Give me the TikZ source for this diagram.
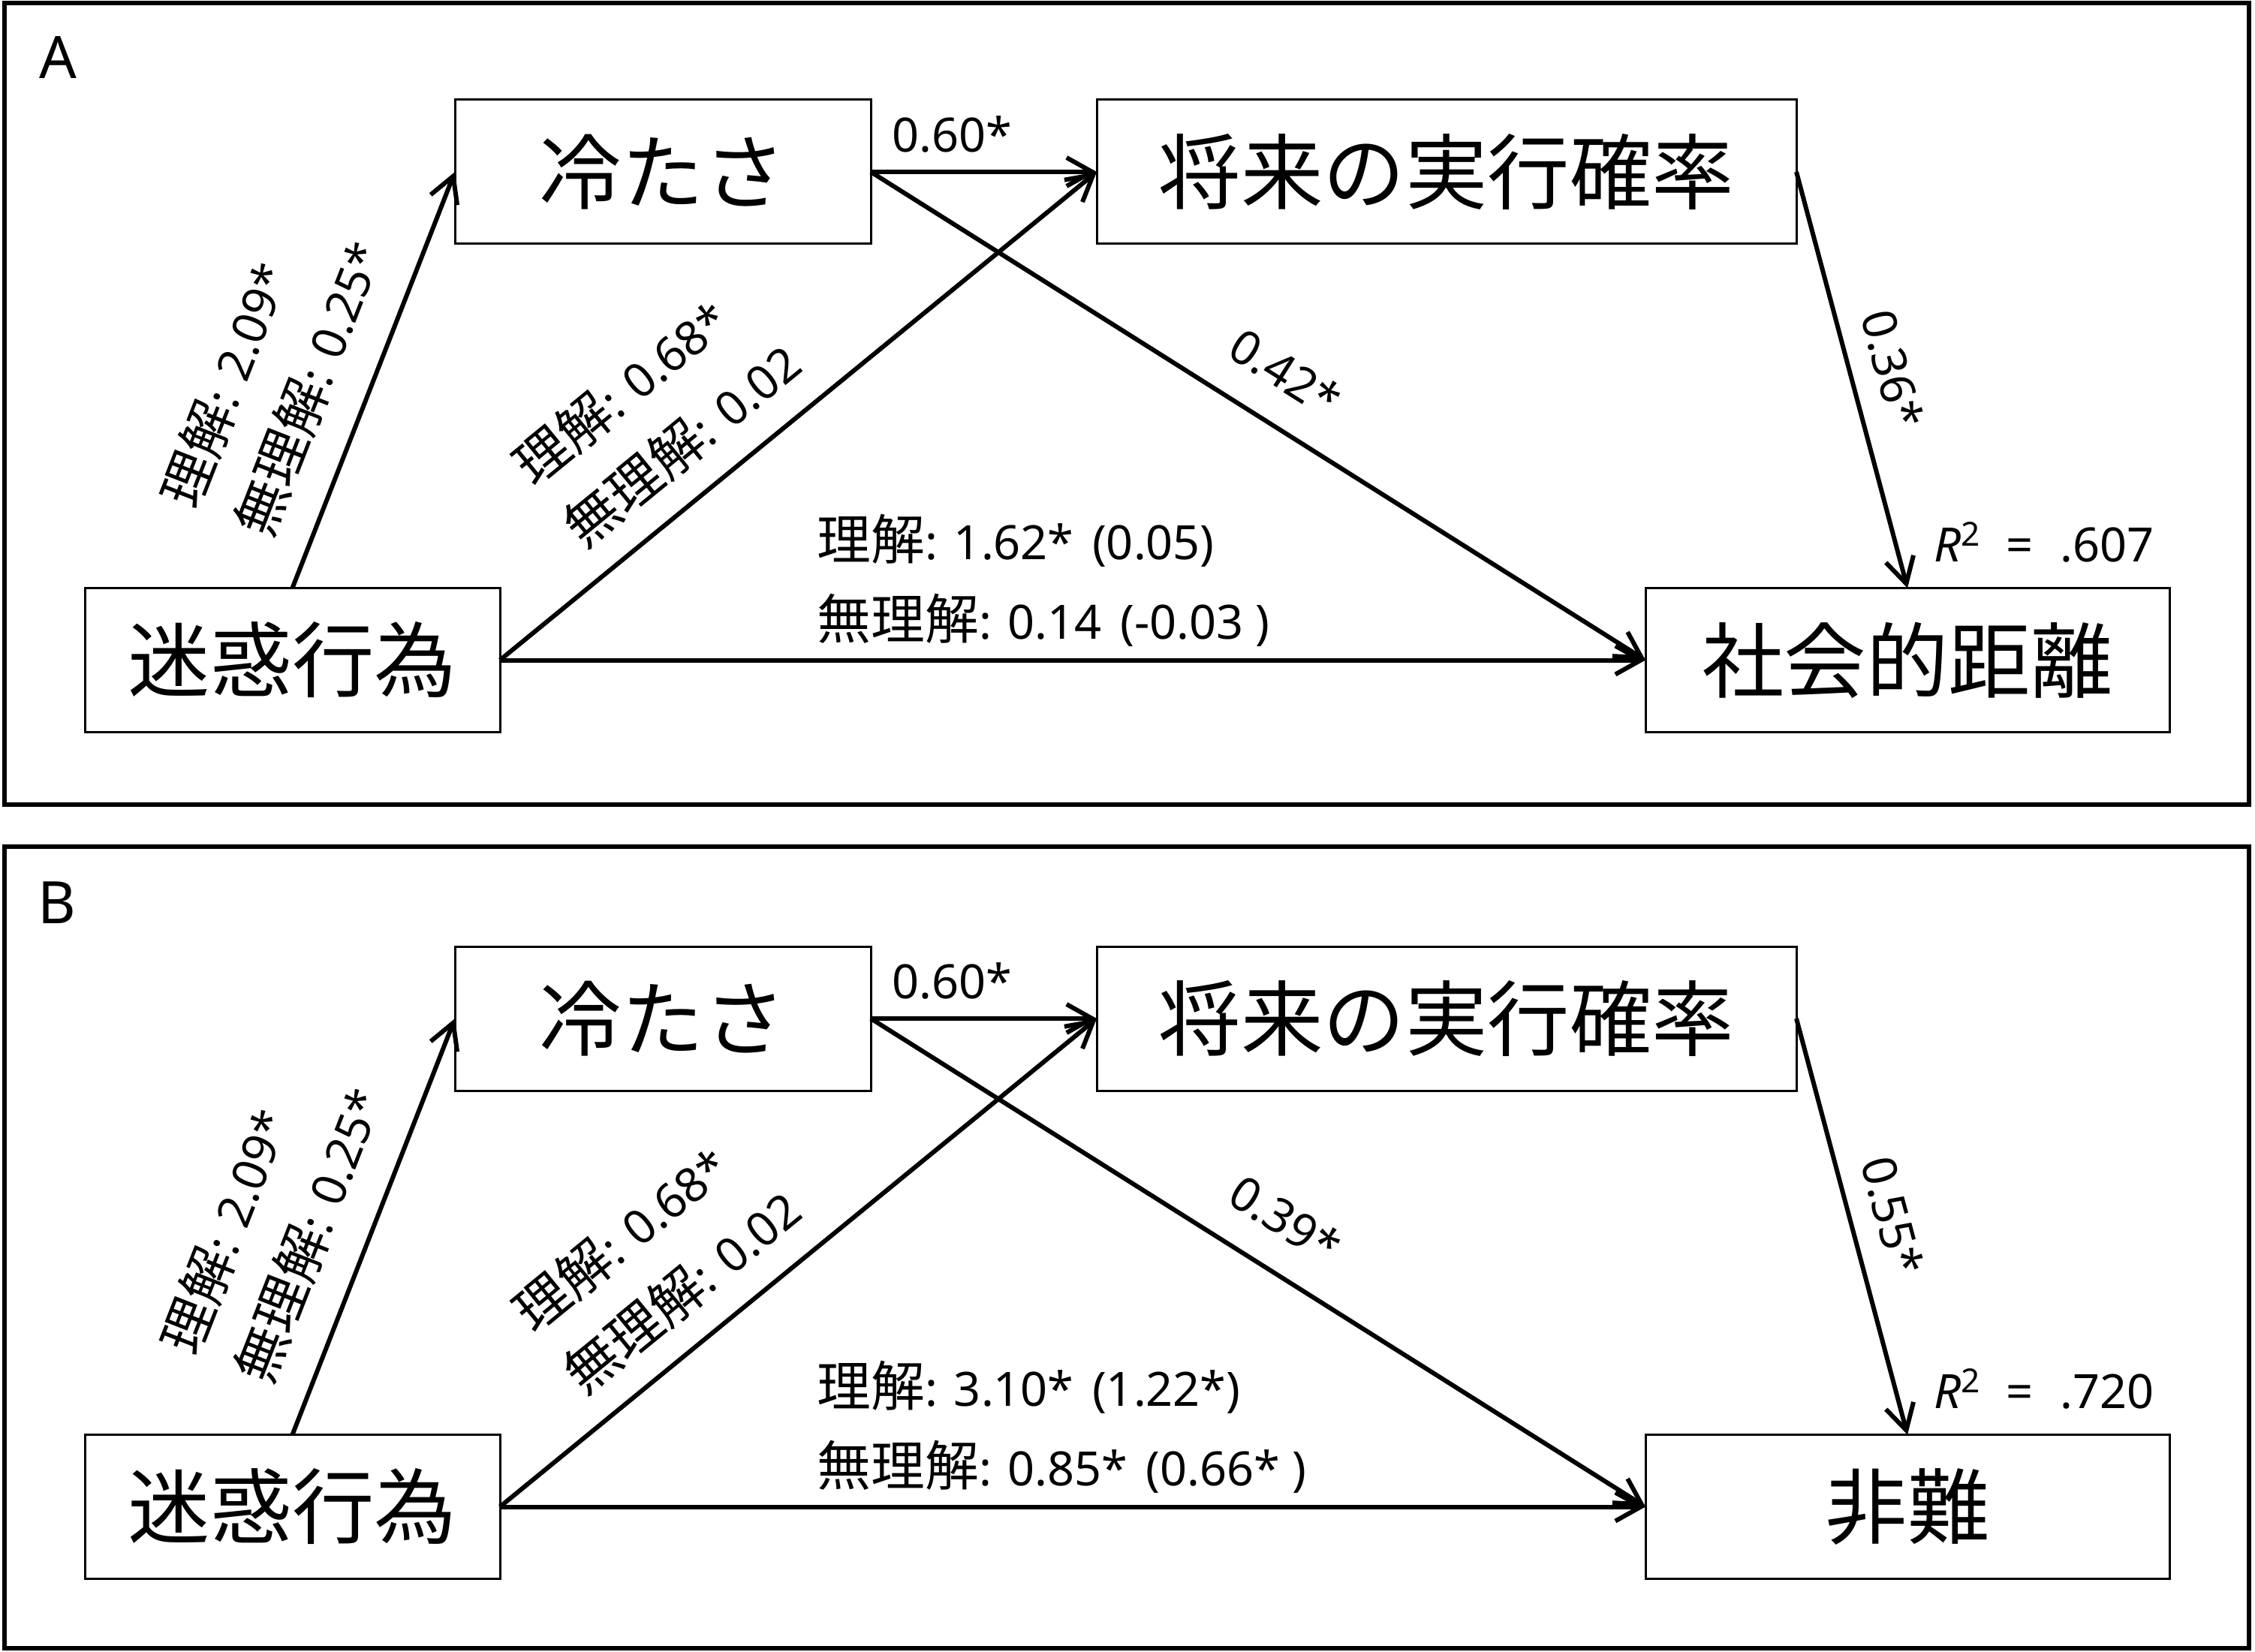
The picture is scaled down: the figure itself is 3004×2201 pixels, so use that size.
\documentclass[tikz,border=0pt]{standalone}
\usepackage{fontspec}
\setmainfont{Noto Sans}
\newfontfamily\jpfont{Noto Sans CJK JP}[Scale=1.14]
\newcommand{\jtext}[1]{{\jpfont #1}}
\usetikzlibrary{arrows.meta,positioning}

\begin{document}
\begin{tikzpicture}[x=0.25pt,y=-0.25pt,>={Straight Barb[length=8.5pt,width=9.5pt]},var/.style={draw,line width=0.75pt,inner sep=0pt,outer sep=0pt,minimum height=48pt,font=\fontsize{24}{28}\selectfont},flow/.style={->,line width=1.5pt},coef/.style={font=\fontsize{15.75}{26.5}\selectfont,inner sep=0pt,align=left},panel/.style={draw,line width=1.4pt},tag/.style={anchor=base west,inner sep=0pt,font=\fontsize{19.5}{20}\selectfont}]
    \useasboundingbox (0,0) rectangle (3004,2201);

    % panel A
    \draw [panel] (6,4) rectangle (2996,1072);
    \node [tag] (tagA) at (52,105) {A};
    \node [var, minimum width=138.5pt] (coldA) at (883,229)          {\jtext{冷たさ}};
    \node [var, minimum width=233pt, right=75.25pt of coldA] (futA)  {\jtext{将来の実行確率}};
    \node [var, minimum width=138.25pt] (annA) at (389.5,879.5)      {\jtext{迷惑行為}};
    \node [var, minimum width=174.5pt] (distA) at (2541,879.5)       {\jtext{社会的距離}};

    \draw [flow] (annA.north) -- node [coef, pos=0.43, sloped, above, outer ysep=11pt] {\jtext{理解}: 2.09*\\\jtext{無理解}: 0.25*} (coldA.west);
    \draw [flow] (annA.east) -- node [coef, pos=0.36, sloped, above, outer ysep=9pt] {\jtext{理解}: 0.68*\\\jtext{無理解}: 0.02} (futA.west);
    \draw [flow] (coldA.east) -- node [coef, pos=0.36, above, outer ysep=6.5pt] {0.60*} (futA.west);
    \draw [flow] (coldA.east) -- node [coef, sloped, above, outer ysep=11pt] {0.42*} (distA.west);
    \draw [flow] (futA.east) -- node [coef, sloped, above, outer ysep=8pt] {0.36*} (distA.north);
    \draw [flow] (annA.east) -- node [coef, pos=0.275, anchor=west, yshift=26.6pt] {\jtext{理解}: 1.62*\hspace{2pt} (0.05)\\\jtext{無理解}: 0.14\hspace{2pt} (-0.03 )} (distA.west);
    \node [coef, anchor=base west] (fitA) at ([xshift=8.75pt,yshift=8.75pt] distA.north) {\textit{R}\textsuperscript{2}\hspace{8pt}=\hspace{9pt}.607};

    % panel B
    \draw [panel] (6,1128) rectangle (2996,2196);
    \node [tag] (tagB) at (50,1230) {B};
    \begin{scope}[yshift=-282pt]
    \node [var, minimum width=138.5pt] (coldB) at (883,229)          {\jtext{冷たさ}};
    \node [var, minimum width=233pt, right=75.25pt of coldB] (futB)  {\jtext{将来の実行確率}};
    \node [var, minimum width=138.25pt] (annB) at (389.5,879.5)      {\jtext{迷惑行為}};
    \node [var, minimum width=174.5pt] (blameB) at (2541,879.5)      {\jtext{非難}};

    \draw [flow] (annB.north) -- node [coef, pos=0.43, sloped, above, outer ysep=11pt] {\jtext{理解}: 2.09*\\\jtext{無理解}: 0.25*} (coldB.west);
    \draw [flow] (annB.east) -- node [coef, pos=0.36, sloped, above, outer ysep=9pt] {\jtext{理解}: 0.68*\\\jtext{無理解}: 0.02} (futB.west);
    \draw [flow] (coldB.east) -- node [coef, pos=0.36, above, outer ysep=6.5pt] {0.60*} (futB.west);
    \draw [flow] (coldB.east) -- node [coef, sloped, above, outer ysep=11pt] {0.39*} (blameB.west);
    \draw [flow] (futB.east) -- node [coef, sloped, above, outer ysep=8pt] {0.55*} (blameB.north);
    \draw [flow] (annB.east) -- node [coef, pos=0.275, anchor=west, yshift=26.6pt] {\jtext{理解}: 3.10*\hspace{2pt} (1.22*)\\\jtext{無理解}: 0.85*\hspace{2pt} (0.66* )} (blameB.west);
    \node [coef, anchor=base west] (fitB) at ([xshift=8.75pt,yshift=8.75pt] blameB.north) {\textit{R}\textsuperscript{2}\hspace{8pt}=\hspace{9pt}.720};
    \end{scope}
\end{tikzpicture}
\end{document}
